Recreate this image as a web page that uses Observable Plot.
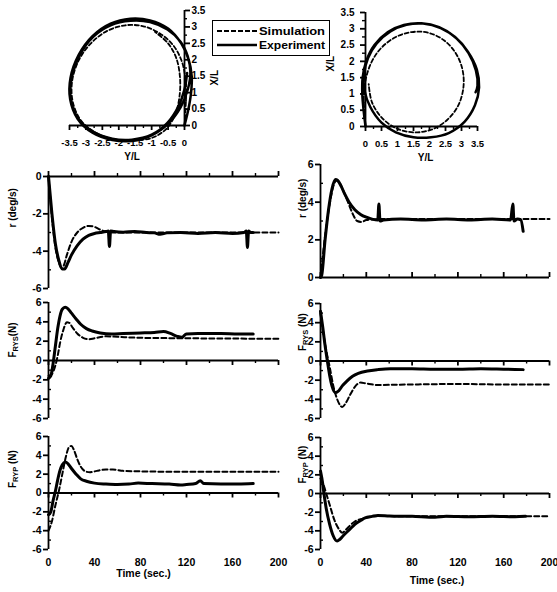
<!DOCTYPE html>
<html><head><meta charset="utf-8">
<script src="https://cdn.jsdelivr.net/npm/d3@7"></script>
<script src="https://cdn.jsdelivr.net/npm/@observablehq/plot@0.6"></script>
<style>
body{margin:0;background:#fff;}
#c{position:relative;width:557px;height:592px;overflow:hidden;background:#fff;font-family:"Liberation Sans",Arial,sans-serif;}
#c svg{position:absolute;}
#legend{position:absolute;left:212px;top:20px;width:116px;height:34px;border:1.8px solid #000;background:#fff;}
#legend svg{position:absolute;left:0;top:0;}
</style></head><body><div id="c"></div><script>
// ---------- tick values ----------
const timeMajor = [0, 40, 80, 120, 160, 200];
const timeMinor = [20, 60, 100, 140, 180];
const yMajorNeg = [-6, -4, -2, 0];
const yMinorNeg = [-5, -3, -1];
const yMajorPos = [0, 2, 4, 6];
const yMinorPos = [1, 3, 5];
const yMajorFull = [-6, -4, -2, 0, 2, 4, 6];
const yMinorFull = [-5, -3, -1, 1, 3, 5];
const circXMajorL = [-3.5, -3, -2.5, -2, -1.5, -1, -0.5, 0];
const circXMinorL = [-3.25, -2.75, -2.25, -1.75, -1.25, -0.75, -0.25];
const circXMajorR = [0, 0.5, 1, 1.5, 2, 2.5, 3, 3.5];
const circXMinorR = [0.25, 0.75, 1.25, 1.75, 2.25, 2.75, 3.25];
const circYMajor = [0, 0.5, 1, 1.5, 2, 2.5, 3, 3.5];
const circYMinor = [0.25, 0.75, 1.25, 1.75, 2.25, 2.75, 3.25];

// ---------- trajectories [Y/L, X/L] ----------
const trajLeftExp = [[0,0],[0.12,0.5],[0.2,1.0],[0.22,1.5],[0.13,2.0],[-0.1,2.5],[-0.5,2.95],[-1.05,3.2],[-1.65,3.25],[-2.25,3.1],[-2.8,2.72],[-3.22,2.15],[-3.47,1.45],[-3.48,0.8],[-3.25,0.2],[-2.8,-0.22],[-2.2,-0.44],[-1.6,-0.47],[-1.0,-0.3],[-0.5,0.05],[-0.12,0.55],[0.1,1.1],[0.18,1.6],[0.1,2.1],[-0.12,2.55],[-0.52,2.92],[-1.05,3.15],[-1.65,3.19],[-2.25,3.05],[-2.78,2.7],[-3.2,2.12],[-3.44,1.45],[-3.46,0.8],[-3.24,0.22],[-2.8,-0.18],[-2.2,-0.4],[-1.6,-0.43],[-1.0,-0.28],[-0.52,0.08],[-0.2,0.55],[0.0,1.1],[0.08,1.6]];
const trajLeftSim = [[0,0],[0.03,0.5],[0.05,1.0],[0.02,1.5],[-0.1,2.0],[-0.35,2.45],[-0.75,2.8],[-1.25,3.02],[-1.8,3.05],[-2.35,2.88],[-2.85,2.5],[-3.22,1.98],[-3.42,1.35],[-3.4,0.72],[-3.15,0.15],[-2.7,-0.22],[-2.15,-0.42],[-1.55,-0.45],[-1.0,-0.38],[-0.55,-0.1],[-0.28,0.35],[-0.15,0.9],[-0.14,1.5],[-0.25,2.05],[-0.5,2.5],[-0.9,2.85]];
const trajRightExp = [[0,0],[-0.06,0.5],[-0.1,1.0],[-0.09,1.5],[0.02,2.0],[0.28,2.5],[0.7,2.9],[1.2,3.12],[1.75,3.17],[2.3,3.05],[2.8,2.75],[3.2,2.3],[3.48,1.75],[3.55,1.2],[3.42,0.65],[3.1,0.15],[2.6,-0.2],[2.05,-0.33],[1.5,-0.33],[0.95,-0.18],[0.5,0.12],[0.15,0.6],[-0.03,1.1],[-0.05,1.6],[0.08,2.1],[0.35,2.55],[0.78,2.92],[1.28,3.12],[1.8,3.16],[2.35,3.02],[2.85,2.7],[3.22,2.25],[3.45,1.72],[3.5,1.25],[3.44,1.05]];
const trajRightSim = [[0,0],[-0.04,0.5],[-0.05,1.0],[0.02,1.5],[0.2,2.0],[0.5,2.42],[0.95,2.75],[1.45,2.9],[1.95,2.88],[2.45,2.65],[2.82,2.25],[3.03,1.75],[3.06,1.2],[2.9,0.65],[2.55,0.2],[2.05,-0.1],[1.5,-0.18],[0.95,-0.05],[0.5,0.28],[0.2,0.75],[0.1,1.3]];

// ---------- time series [t, value] ----------
const rLeftExp = [[0,0],[3,-2.0],[6,-3.6],[9,-4.5],[12,-4.95],[14,-4.95],[17,-4.6],[20,-4.2],[25,-3.7],[30,-3.35],[35,-3.15],[40,-3.05],[45,-3.0],[50,-2.95],[52,-2.92],[53,-3.75],[54,-2.92],[57,-2.95],[65,-2.98],[75,-2.95],[85,-3.0],[92,-3.02],[97,-3.1],[103,-3.02],[115,-3.0],[130,-3.05],[145,-3.0],[160,-3.05],[170,-3.0],[172,-2.92],[173,-3.8],[174,-2.92],[176,-3.0],[178,-3.0]];
const rLeftSim = [[0,0],[3,-2.2],[6,-3.8],[9,-4.6],[11,-4.88],[13,-4.8],[16,-4.2],[20,-3.5],[25,-3.0],[30,-2.75],[35,-2.65],[40,-2.7],[45,-2.85],[50,-2.95],[60,-3.0],[200,-3.0]];
const rRightExp = [[0,0],[1,0.1],[4,2.0],[7,3.6],[10,4.7],[13,5.2],[15,5.15],[18,4.85],[21,4.45],[25,4.0],[30,3.6],[35,3.35],[40,3.2],[45,3.1],[50,3.05],[51,3.9],[52,3.0],[55,3.05],[70,3.1],[90,3.05],[110,3.1],[130,3.05],[150,3.1],[166,3.05],[168,3.9],[169,3.0],[172,3.1],[175,3.05],[177,2.45]];
const rRightSim = [[0,0],[4,2.2],[8,3.9],[11,4.8],[14,5.15],[17,5.0],[20,4.6],[24,4.0],[28,3.4],[32,3.0],[36,2.95],[40,3.05],[50,3.1],[200,3.1]];
const fysLeftExp = [[0,-1.85],[2,-1.6],[4,-0.3],[6,1.5],[8,3.3],[10,4.6],[12,5.3],[14.5,5.5],[17,5.35],[20,4.9],[24,4.3],[28,3.75],[33,3.3],[38,3.05],[45,2.85],[55,2.75],[65,2.8],[80,2.85],[92,2.9],[100,3.0],[106,2.8],[112,2.5],[116,2.4],[120,2.75],[130,2.8],[150,2.8],[165,2.75],[178,2.75]];
const fysLeftSim = [[0,-1.6],[3,-1.4],[6,-0.5],[8,0.5],[10,1.8],[13,3.2],[16,3.95],[18,3.9],[21,3.4],[25,2.8],[30,2.35],[35,2.2],[40,2.3],[50,2.5],[60,2.45],[80,2.35],[120,2.3],[200,2.25]];
const fysRightExp = [[0,5.2],[2,3.5],[4,1.6],[6,0],[8,-1.5],[10,-2.6],[13,-3.3],[16,-3.1],[19,-2.6],[23,-2.1],[28,-1.6],[33,-1.3],[41,-1.05],[50,-0.9],[61,-0.8],[80,-0.8],[100,-0.85],[120,-0.85],[140,-0.8],[160,-0.85],[177,-0.9]];
const fysRightSim = [[0,5.0],[3,2.5],[6,0.5],[8,-0.6],[11,-2.5],[14,-3.8],[17,-4.6],[19,-4.8],[22,-4.4],[26,-3.5],[30,-2.7],[35,-2.25],[40,-2.35],[50,-2.5],[80,-2.45],[120,-2.4],[160,-2.45],[200,-2.45]];
const fypLeftExp = [[0,-2.3],[2,-2.0],[4,-0.8],[6,0.2],[8,1.4],[10,2.4],[12,3.0],[14.5,3.3],[17,3.1],[20,2.6],[24,2.0],[28,1.5],[33,1.25],[40,1.05],[50,0.95],[60,0.9],[70,0.95],[78,1.05],[90,1.0],[105,0.95],[115,0.85],[120,0.9],[128,1.0],[132,1.3],[135,1.0],[150,0.95],[165,0.95],[178,1.0]];
const fypLeftSim = [[0,-4.0],[3,-3.0],[6,-1.3],[9,0.2],[12,2.0],[15,3.8],[18,4.9],[20,5.0],[22,4.6],[25,3.6],[28,2.8],[32,2.3],[36,2.2],[42,2.35],[50,2.5],[56,2.5],[65,2.35],[80,2.3],[120,2.25],[200,2.25]];
const fypRightExp = [[0,2.4],[2,1.0],[3,0],[5,-1.6],[8,-3.3],[11,-4.5],[14.5,-5.1],[17,-4.9],[20,-4.5],[25,-3.9],[30,-3.3],[35,-2.9],[39,-2.6],[45,-2.45],[50,-2.35],[60,-2.4],[80,-2.45],[100,-2.55],[110,-2.45],[130,-2.5],[150,-2.45],[170,-2.5],[179,-2.45]];
const fypRightSim = [[0,1.6],[3,0.8],[5,0],[8,-1.2],[12,-2.8],[16,-3.8],[19,-4.2],[22,-3.9],[26,-3.4],[30,-3.0],[35,-2.75],[40,-2.6],[50,-2.4],[80,-2.45],[120,-2.45],[160,-2.45],[200,-2.45]];

// ---------- helpers ----------
const M = 40;
const C = document.getElementById("c");
const FONT = "'Liberation Sans', Arial, sans-serif";
function mk(frame, opts) {
  const [x0, y0, x1, y1] = frame;
  const svg = Plot.plot({
    width: x1 - x0 + 2 * M, height: y1 - y0 + 2 * M,
    marginTop: M, marginBottom: M, marginLeft: M, marginRight: M,
    style: {background: "transparent", overflow: "visible", fontFamily: FONT, fontWeight: "bold", fontSize: "10px", color: "#000"},
    ...opts
  });
  svg.style.left = (x0 - M) + "px";
  svg.style.top = (y0 - M) + "px";
  svg.style.maxWidth = "none";
  C.append(svg);
  // subscripts in labels
  svg.querySelectorAll("text").forEach(t => {
    const s = t.textContent;
    const m = /^F(RY[SP])(.*)$/.exec(s);
    if (m) t.innerHTML = 'F<tspan font-size="7.5" dy="2">' + m[1] + '</tspan><tspan dy="-2">' + m[2] + '</tspan>';
  });
  return svg;
}
const px = d => d[0], py = d => d[1];

function timePanel(frame, ydom, yMaj, yMin, exp, sim, yLabel, tickDir, labelDx, labelDy, showX, titleDx, titleDy) {
  const [x0, y0, x1, y1] = frame;
  const ppuY = (y1 - y0) / (ydom[1] - ydom[0]);
  const ppuX = (x1 - x0) / 200;
  const marks = [
    Plot.ruleX([0], {strokeWidth: 1.8}),
    Plot.ruleY([0], {strokeWidth: 1.8}),
    Plot.ruleX(timeMajor, {x: d => d, y1: 0, y2: tickDir * 5 / ppuY, strokeWidth: 1.8}),
    Plot.ruleX(timeMinor, {x: d => d, y1: 0, y2: tickDir * 3 / ppuY, strokeWidth: 1.4}),
    Plot.axisY({ticks: yMaj, tickSize: 5, tickPadding: 2, tickFormat: d => String(d), label: null, strokeWidth: 1.8, fontSize: 10.5}),
    Plot.ruleY(yMin, {y: d => d, x1: 0, x2: 3 / ppuX, strokeWidth: 1.4}),
    Plot.line(sim, {x: px, y: py, curve: "monotone-x", strokeWidth: 2, strokeDasharray: "5,3"}),
    Plot.line(exp, {x: px, y: py, curve: "monotone-x", strokeWidth: 3}),
    Plot.text([yLabel], {text: d => d, frameAnchor: "left", rotate: -90, dx: labelDx, dy: labelDy, fontSize: 10, fontWeight: "bold"})
  ];
  if (showX) {
    marks.push(Plot.axisX({ticks: timeMajor, tickSize: 0, tickPadding: 9, tickFormat: d => String(d), label: null, fontSize: 10.5}));
    marks.push(Plot.text(["Time (sec.)"], {text: d => d, frameAnchor: "bottom", dx: titleDx, dy: titleDy, fontSize: 10.5, fontWeight: "bold"}));
  }
  return mk(frame, {
    x: showX ? {domain: [0, 200]} : {domain: [0, 200], axis: null},
    y: {domain: ydom},
    marks
  });
}

function circlePanel(frame, xdom, xMaj, xMin, exp, sim, isLeft) {
  const [x0, y0, x1, y1] = frame;
  const ppuX = (x1 - x0) / 3.5, ppuY = (y1 - y0) / 3.5;
  const marks = [
    Plot.ruleX([0], {y1: 0, y2: 3.5, strokeWidth: 1.8}),
    Plot.ruleY([0], {strokeWidth: 1.8}),
    Plot.axisX({ticks: xMaj, tickSize: 5, tickPadding: 9, tickFormat: d => String(d), label: null, strokeWidth: 1.8, fontSize: 9.5, letterSpacing: "-0.5px"}),
    Plot.ruleX(xMin, {x: d => d, y1: 0, y2: -3 / ppuY, strokeWidth: 1.4}),
    Plot.axisY({anchor: isLeft ? "right" : "left", ticks: circYMajor, tickSize: 5, tickPadding: isLeft ? 2 : 6, tickFormat: d => String(d), label: null, strokeWidth: 1.8, fontSize: 10}),
    Plot.ruleY(circYMinor, {y: d => d, x1: 0, x2: (isLeft ? 3 : -3) / ppuX, strokeWidth: 1.4}),
    Plot.line(sim, {x: px, y: py, curve: "catmull-rom", strokeWidth: 1.8, strokeDasharray: "4,2.5"}),
    Plot.line(exp, {x: px, y: py, curve: "catmull-rom", strokeWidth: 2.5}),
    Plot.text(["Y/L"], {text: d => d, frameAnchor: "bottom", dx: isLeft ? 5 : 4, dy: 34, fontSize: 10, fontWeight: "bold"}),
    Plot.text(["X/L"], {text: d => d, frameAnchor: isLeft ? "right" : "left", rotate: -90, dx: isLeft ? 30 : -35, dy: 2, fontSize: 10, fontWeight: "bold"})
  ];
  return mk(frame, {x: {domain: xdom}, y: {domain: [0, 3.5]}, marks});
}

// ---------- draw ----------
circlePanel([69, 10, 184, 125], [-3.5, 0], circXMajorL, circXMinorL, trajLeftExp, trajLeftSim, true);
circlePanel([365, 12, 477, 126], [0, 3.5], circXMajorR, circXMinorR, trajRightExp, trajRightSim, false);

timePanel([48, 176, 278, 288], [-6, 0], yMajorNeg, yMinorNeg, rLeftExp, rLeftSim, "r (deg/s)", 1, -36, -5, false);
timePanel([320, 164, 549, 277], [0, 6], yMajorPos, yMinorPos, rRightExp, rRightSim, "r (deg/s)", 1, -18, -3, false);
timePanel([48, 302, 278, 418], [-6, 6], yMajorFull, yMinorFull, fysLeftExp, fysLeftSim, "FRYS(N)", -1, -36, -3, false);
timePanel([320, 303, 549, 418], [-6, 6], yMajorFull, yMinorFull, fysRightExp, fysRightSim, "FRYS (N)", -1, -18, -10, false);
timePanel([48, 436, 278, 549], [-6, 6], yMajorFull, yMinorFull, fypLeftExp, fypLeftSim, "FRYP (N)", -1, -36, -5, true, -20, 27);
timePanel([320, 437, 549, 549], [-6, 6], yMajorFull, yMinorFull, fypRightExp, fypRightSim, "FRYP (N)", -1, -18, -10, true, 2, 34);

// ---------- legend ----------
const legendItems = ["Simulation", "Experiment"];
const legendDash = ["5,2", null];
const lg = document.createElement("div");
lg.id = "legend";
let inner = '<svg width="116" height="34" font-family="' + FONT.replace(/'/g, "") + '" font-weight="bold" font-size="11.5">';
legendItems.forEach((name, i) => {
  const y = 10 + i * 14;
  inner += '<line x1="4" x2="44" y1="' + y + '" y2="' + y + '" stroke="#000" stroke-width="' + (legendDash[i] ? 1.9 : 2.6) + '"' + (legendDash[i] ? ' stroke-dasharray="' + legendDash[i] + '"' : '') + '/>';
  inner += '<text x="46" y="' + (y + 4) + '" textLength="66" lengthAdjust="spacingAndGlyphs">' + name + '</text>';
});
inner += '</svg>';
lg.innerHTML = inner;
C.append(lg);
</script></body></html>
